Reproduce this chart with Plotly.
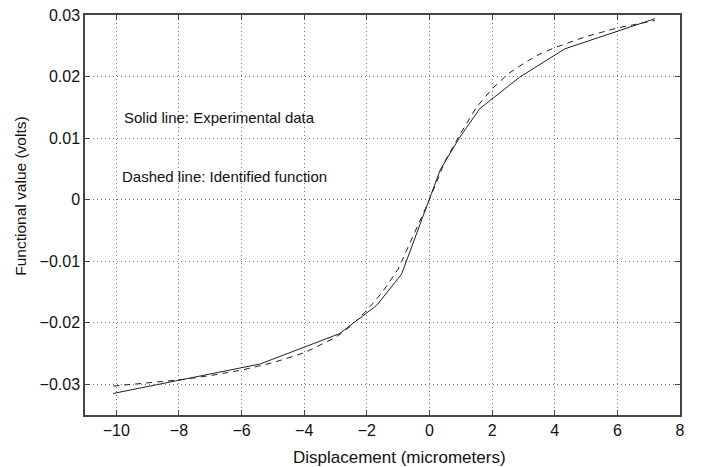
import plotly.graph_objects as go

# Experimental data (solid)
exp_x = [-10.1, -5.4, -2.88, -1.69, -0.89, 0.0, 0.34, 0.95, 1.61, 2.88, 4.32, 7.2]
exp_y = [-0.0315, -0.0267, -0.0218, -0.0172, -0.0121, 0.0, 0.0048, 0.0100, 0.0148, 0.0199, 0.0245, 0.0294]

# Identified function (dashed)
fit_x = [-10.1, -9, -8, -7, -6, -5, -4, -3, -2.5, -2, -1.5, -1, -0.5, 0, 0.5, 1, 1.5, 2, 2.5, 3, 3.5, 4, 5, 6, 7, 7.2]
fit_y = [-0.0303, -0.0298, -0.0293, -0.0286, -0.0277, -0.0265, -0.0249, -0.0224, -0.0205, -0.0180,
         -0.0150, -0.0113, -0.0057, 0.0, 0.0063, 0.0108, 0.0150, 0.0180, 0.0204, 0.0221, 0.0236,
         0.0247, 0.0265, 0.0279, 0.0289, 0.0291]

x_ticks = [-10, -8, -6, -4, -2, 0, 2, 4, 6, 8]
y_ticks = [-0.03, -0.02, -0.01, 0, 0.01, 0.02, 0.03]

fig = go.Figure()
fig.add_trace(go.Scatter(x=exp_x, y=exp_y, mode="lines",
                         line=dict(color="#222222", width=1), showlegend=False))
fig.add_trace(go.Scatter(x=fit_x, y=fit_y, mode="lines",
                         line=dict(color="#222222", width=1, dash="6px,5px"), showlegend=False))

font = "Liberation Sans, Arial, Helvetica, sans-serif"

fig.add_annotation(x=-9.82, y=0.0133, text="Solid line: Experimental data", showarrow=False,
                   xanchor="left", yanchor="middle", font=dict(family=font, size=15, color="#111"))
fig.add_annotation(x=-9.88, y=0.0038, text="Dashed line: Identified function", showarrow=False,
                   xanchor="left", yanchor="middle", font=dict(family=font, size=15, color="#111"))

# Axis titles
fig.add_annotation(xref="paper", yref="paper", x=0.528, y=-0.105, text="Displacement (micrometers)",
                   showarrow=False, xanchor="center", yanchor="middle",
                   font=dict(family=font, size=17, color="#111"))
fig.add_annotation(xref="paper", yref="paper", x=-0.109, y=0.546, text="Functional value (volts)",
                   showarrow=False, xanchor="center", yanchor="middle", textangle=-90,
                   font=dict(family=font, size=15.5, color="#111"))

axis_common = dict(showline=True, linecolor="#444", linewidth=1.5, mirror="ticks",
                   ticks="inside", ticklen=5, tickcolor="#444",
                   showgrid=True, gridcolor="#777", griddash="1px,3px", gridwidth=1,
                   zeroline=False, automargin=False,
                   tickfont=dict(family=font, size=16, color="#111"))

fig.update_xaxes(range=[-11, 8], tickvals=x_ticks,
                 ticktext=["\u221210", "\u22128", "\u22126", "\u22124", "\u22122", "0", "2", "4", "6", "8"],
                 **axis_common)
fig.update_yaxes(range=[-0.035, 0.03], tickvals=y_ticks,
                 ticktext=["\u22120.03", "\u22120.02", "\u22120.01", "0", "0.01", "0.02", "0.03"],
                 **axis_common)

fig.update_layout(width=709, height=467, margin=dict(l=85, r=29, t=15, b=52, autoexpand=False),
                  plot_bgcolor="white", paper_bgcolor="white")

fig.write_html("out.html")
